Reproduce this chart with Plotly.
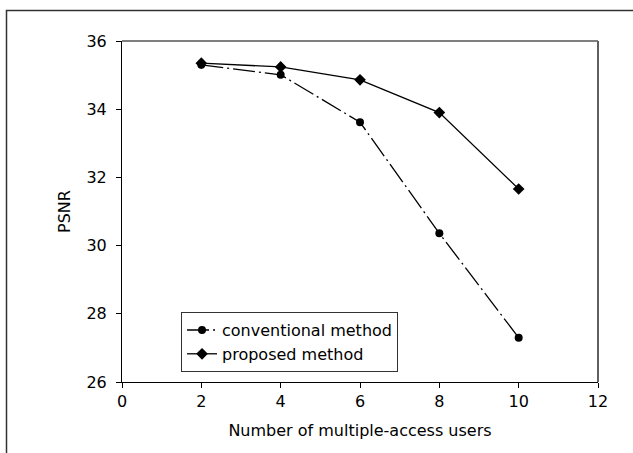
import plotly.graph_objects as go

users = [2, 4, 6, 8, 10]
psnr_conventional = [35.30, 35.01, 33.62, 30.36, 27.30]
psnr_proposed = [35.35, 35.24, 34.86, 33.90, 31.66]

x_ticks = [0, 2, 4, 6, 8, 10, 12]
y_ticks = [26, 28, 30, 32, 34, 36]

FONT = "DejaVu Sans, Liberation Sans, Arial, sans-serif"

fig = go.Figure()
fig.add_trace(go.Scatter(
    x=users, y=psnr_conventional, mode="lines+markers",
    name="conventional method",
    line=dict(color="black", width=1.3, dash="22px,4px,2px,4px"),
    marker=dict(symbol="circle", size=8, color="black"),
))
fig.add_trace(go.Scatter(
    x=users, y=psnr_proposed, mode="lines+markers",
    name="proposed method",
    line=dict(color="black", width=1.3),
    marker=dict(symbol="diamond", size=9, color="black"),
))

fig.update_layout(
    width=633, height=453,
    margin=dict(l=122, r=35, t=41, b=71, autoexpand=False),
    paper_bgcolor="white", plot_bgcolor="white",
    font=dict(family=FONT, size=16, color="black"),
    showlegend=True,
    legend=dict(
        x=0.124, y=0.205, xanchor="left", yanchor="top",
        bordercolor="#333333", borderwidth=1, bgcolor="white",
        font=dict(family=FONT, size=16, color="black"),
        tracegroupgap=0, itemwidth=30,
    ),
    xaxis=dict(
        range=[0, 12], tickvals=x_ticks, ticktext=[str(v) for v in x_ticks],
        showgrid=False, zeroline=False, showline=True, linecolor="black", linewidth=1,
        ticks="outside", ticklen=5, tickcolor="black", tickwidth=1,
        automargin=False,
        title=dict(text="Number of multiple-access users", standoff=14,
                   font=dict(family=FONT, size=16)),
    ),
    yaxis=dict(
        range=[26, 36], tickvals=y_ticks, ticktext=[str(v) for v in y_ticks],
        showgrid=False, zeroline=False, showline=True, linecolor="black", linewidth=1,
        ticks="outside", ticklen=5, tickcolor="black", tickwidth=1,
        ticklabelstandoff=6, automargin=False,
        title=dict(text="PSNR", standoff=11, font=dict(family=FONT, size=16)),
    ),
    shapes=[
        dict(type="line", xref="paper", yref="paper", x0=0, x1=1, y0=1, y1=1,
             line=dict(color="black", width=1)),
        dict(type="line", xref="paper", yref="paper", x0=1, x1=1, y0=0, y1=1,
             line=dict(color="#606060", width=2)),
        dict(type="rect", xref="paper", yref="paper",
             x0=(6.5 - 122) / 476, x1=(660 - 122) / 476,
             y0=(382 - 480) / 341, y1=(382 - 10.5) / 341,
             line=dict(color="#333333", width=1.5), fillcolor="rgba(0,0,0,0)"),
    ],
)

fig.write_html("out.html", config={"displayModeBar": False},
               post_script="document.body.style.margin='0';document.body.style.padding='0';")
